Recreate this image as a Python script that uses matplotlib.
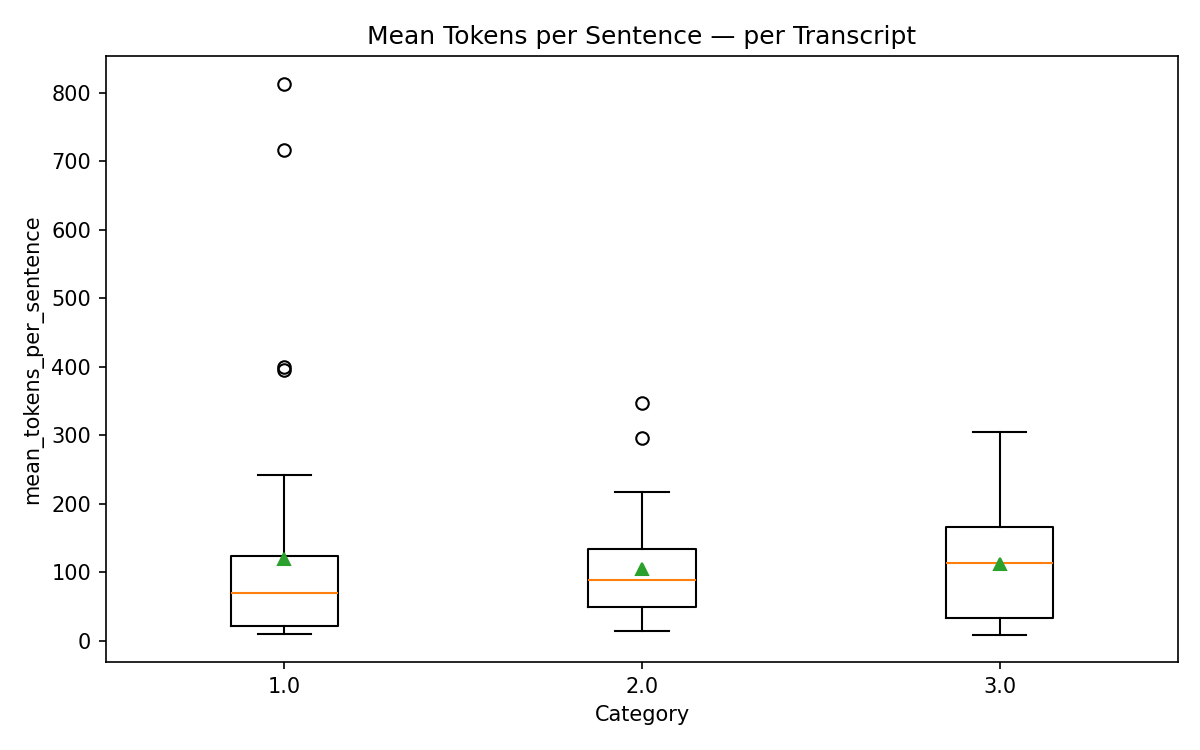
import matplotlib
matplotlib.use("Agg")
import matplotlib.pyplot as plt

categories = ["1.0", "2.0", "3.0"]
whislo = [10, 15, 9]
q1 = [22, 50, 34]
med = [70, 89, 114]
q3 = [124, 134, 166]
whishi = [242, 217, 305]
means = [120, 105, 112]
fliers = [[813, 717, 400, 395], [347, 296], []]

stats = []
for i, c in enumerate(categories):
    stats.append(dict(label=c, whislo=whislo[i], q1=q1[i], med=med[i], q3=q3[i],
                      whishi=whishi[i], mean=means[i], fliers=fliers[i]))

fig, ax = plt.subplots(figsize=(8, 5), dpi=150)
ax.bxp(stats, showmeans=True)
ax.set_title("Mean Tokens per Sentence — per Transcript")
ax.set_xlabel("Category")
ax.set_ylabel("mean_tokens_per_sentence")
plt.subplots_adjust(left=0.088, right=0.982, top=0.925, bottom=0.117)
plt.savefig("out.png")
